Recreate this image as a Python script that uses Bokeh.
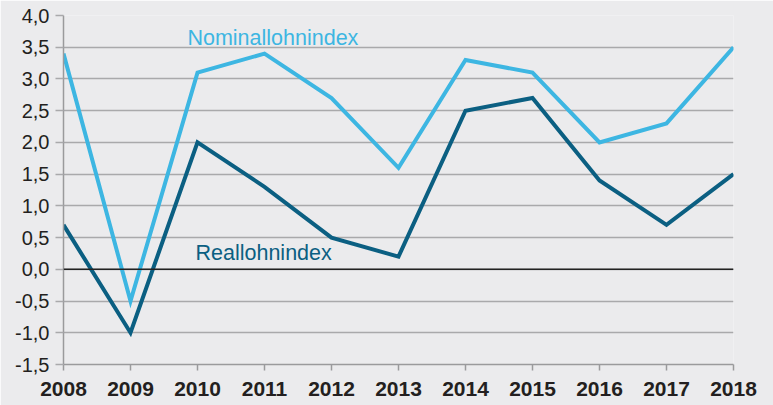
from bokeh.plotting import figure
from bokeh.models import FixedTicker, Span, Label, ColumnDataSource
from bokeh.embed import file_html
from bokeh.resources import INLINE

years = [2008, 2009, 2010, 2011, 2012, 2013, 2014, 2015, 2016, 2017, 2018]
nominal = [3.4, -0.5, 3.1, 3.4, 2.7, 1.6, 3.3, 3.1, 2.0, 2.3, 3.5]
real = [0.7, -1.0, 2.0, 1.3, 0.5, 0.2, 2.5, 2.7, 1.4, 0.7, 1.5]
y_ticks = [-1.5, -1.0, -0.5, 0.0, 0.5, 1.0, 1.5, 2.0, 2.5, 3.0, 3.5, 4.0]
y_tick_labels = ["-1,5", "-1,0", "-0,5", "0,0", "0,5", "1,0", "1,5", "2,0", "2,5", "3,0", "3,5", "4,0"]

BG = "#ebebed"
LIGHT = "#3db6e2"
DARK = "#0b5f82"
GRID = "#a9a9ab"
TXT = "#231f20"

src = ColumnDataSource(dict(year=years, nominal=nominal, real=real))

p = figure(width=773, height=405, output_backend="svg", toolbar_location=None,
           x_range=(2008, 2018), y_range=(-1.5, 4.0),
           min_border_left=63, min_border_right=40, min_border_top=15, min_border_bottom=41)
p.background_fill_color = BG
p.border_fill_color = BG
p.outline_line_color = None

p.xgrid.grid_line_color = None
p.ygrid.grid_line_color = GRID
p.ygrid.grid_line_width = 1.5
p.ygrid.ticker = FixedTicker(ticks=y_ticks)

p.yaxis.ticker = FixedTicker(ticks=y_ticks)
p.yaxis.major_label_overrides = {t: l for t, l in zip(y_ticks, y_tick_labels)}
p.yaxis.axis_line_color = "#9a9a9c"
p.yaxis.axis_line_width = 1.5
p.yaxis.major_tick_line_color = GRID
p.yaxis.major_tick_line_width = 1.5
p.yaxis.major_tick_out = 8
p.yaxis.major_tick_in = 0
p.yaxis.minor_tick_line_color = None
p.yaxis.major_label_standoff = 6
p.yaxis.major_label_text_font = "Liberation Sans"
p.yaxis.major_label_text_font_size = "20px"
p.yaxis.major_label_text_color = TXT

p.xaxis.ticker = FixedTicker(ticks=years)
p.xaxis.axis_line_color = "#9a9a9c"
p.xaxis.axis_line_width = 1.5
p.xaxis.major_tick_line_color = "#9a9a9c"
p.xaxis.major_tick_line_width = 1.5
p.xaxis.major_tick_out = 6
p.xaxis.major_tick_in = 0
p.xaxis.minor_tick_line_color = None
p.xaxis.major_label_standoff = 11
p.xaxis.major_label_text_font = "Liberation Sans"
p.xaxis.major_label_text_font_style = "bold"
p.xaxis.major_label_text_font_size = "21px"
p.xaxis.major_label_text_color = TXT

p.add_layout(Span(location=0, dimension="width", line_color="#222222", line_width=1.5))

p.line("year", "nominal", source=src, line_color=LIGHT, line_width=4, line_join="miter")
p.line("year", "real", source=src, line_color=DARK, line_width=4, line_join="miter")

p.add_layout(Label(x=2009.85, y=3.65, text="Nominallohnindex", text_color=LIGHT,
                   text_font="Liberation Sans", text_font_size="21.5px", text_baseline="middle"))
p.add_layout(Label(x=2009.97, y=0.25, text="Reallohnindex", text_color=DARK,
                   text_font="Liberation Sans", text_font_size="21.5px", text_baseline="middle"))

open("out.html", "w").write(file_html(p, INLINE))
